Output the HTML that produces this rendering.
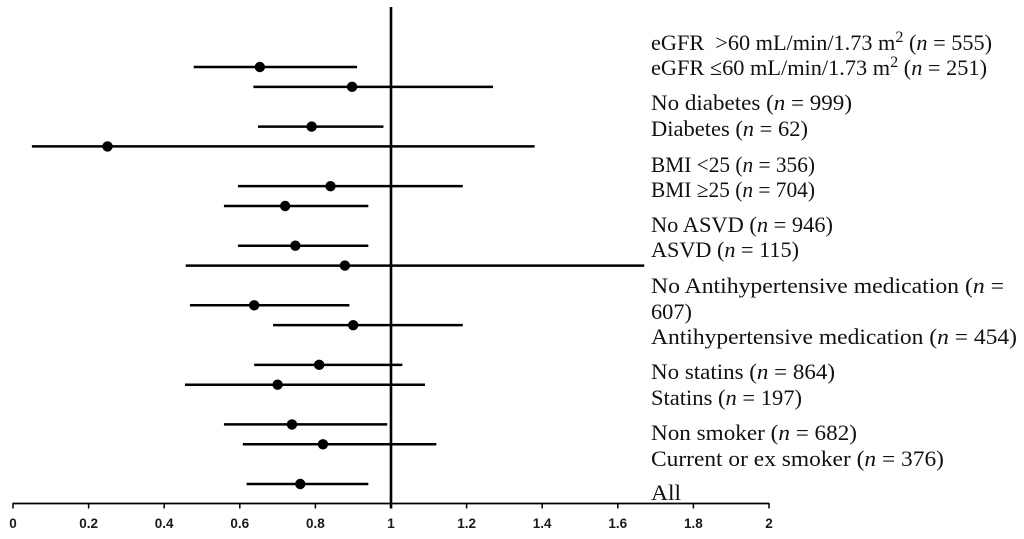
<!DOCTYPE html>
<html lang="en">
<head>
<meta charset="utf-8">
<title>Forest plot of subgroups</title>
<style>
html,body{margin:0;padding:0;background:#fff;width:1024px;height:539px;overflow:hidden}
svg{display:block}
.lbl{font-family:"Liberation Serif",serif;font-size:22px;fill:#111;white-space:pre}
.lbl .n{font-style:italic}
.tick-label{font-family:"Liberation Sans",sans-serif;font-weight:bold;font-size:13.5px;fill:#1a1a1a;text-anchor:middle}
</style>
</head>
<body>
<svg id="chart" width="1024" height="539" viewBox="0 0 1024 539" xmlns="http://www.w3.org/2000/svg">
  <g id="marks"></g>
  <g id="axis"></g>
  <g>
    <text class="lbl" x="651" y="50" textLength="341" lengthAdjust="spacingAndGlyphs">eGFR  &gt;60 mL/min/1.73 m<tspan font-size="16" dy="-8">2</tspan><tspan dy="8"> (</tspan><tspan class="n">n</tspan> = 555)</text>
    <text class="lbl" x="651" y="75" textLength="336" lengthAdjust="spacingAndGlyphs">eGFR ≤60 mL/min/1.73 m<tspan font-size="16" dy="-8">2</tspan><tspan dy="8"> (</tspan><tspan class="n">n</tspan> = 251)</text>
    <text class="lbl" x="651" y="110" textLength="201" lengthAdjust="spacingAndGlyphs">No diabetes (<tspan class="n">n</tspan> = 999)</text>
    <text class="lbl" x="651" y="136" textLength="157" lengthAdjust="spacingAndGlyphs">Diabetes (<tspan class="n">n</tspan> = 62)</text>
    <text class="lbl" x="651" y="172" textLength="164" lengthAdjust="spacingAndGlyphs">BMI &lt;25 (<tspan class="n">n</tspan> = 356)</text>
    <text class="lbl" x="651" y="197" textLength="164" lengthAdjust="spacingAndGlyphs">BMI ≥25 (<tspan class="n">n</tspan> = 704)</text>
    <text class="lbl" x="651" y="232" textLength="182" lengthAdjust="spacingAndGlyphs">No ASVD (<tspan class="n">n</tspan> = 946)</text>
    <text class="lbl" x="651" y="257" textLength="148" lengthAdjust="spacingAndGlyphs">ASVD (<tspan class="n">n</tspan> = 115)</text>
    <text class="lbl" x="651" y="293" textLength="353" lengthAdjust="spacingAndGlyphs">No Antihypertensive medication (<tspan class="n">n</tspan> =</text>
    <text class="lbl" x="651" y="319" textLength="41" lengthAdjust="spacingAndGlyphs">607)</text>
    <text class="lbl" x="651" y="344" textLength="366" lengthAdjust="spacingAndGlyphs">Antihypertensive medication (<tspan class="n">n</tspan> = 454)</text>
    <text class="lbl" x="651" y="379" textLength="184" lengthAdjust="spacingAndGlyphs">No statins (<tspan class="n">n</tspan> = 864)</text>
    <text class="lbl" x="651" y="405" textLength="151" lengthAdjust="spacingAndGlyphs">Statins (<tspan class="n">n</tspan> = 197)</text>
    <text class="lbl" x="651" y="440" textLength="206" lengthAdjust="spacingAndGlyphs">Non smoker (<tspan class="n">n</tspan> = 682)</text>
    <text class="lbl" x="651" y="466" textLength="293" lengthAdjust="spacingAndGlyphs">Current or ex smoker (<tspan class="n">n</tspan> = 376)</text>
    <text class="lbl" x="651" y="500" textLength="30" lengthAdjust="spacingAndGlyphs">All</text>
  </g>
</svg>
<script>
// Rows run top to bottom; null entries are the blank spacer rows between groups.
const categories = ["eGFR >60", "eGFR <=60", null, "No diabetes", "Diabetes", null, "BMI <25", "BMI >=25", null, "No ASVD", "ASVD", null, "No antihypertensive", "Antihypertensive", null, "No statins", "Statins", null, "Non smoker", "Current or ex smoker", null, "All"];
const estimates = [0.653, 0.897, null, 0.79, 0.25, null, 0.84, 0.72, null, 0.747, 0.878, null, 0.638, 0.90, null, 0.81, 0.70, null, 0.738, 0.82, null, 0.76];
const lowerBounds = [0.478, 0.636, null, 0.648, 0.05, null, 0.595, 0.558, null, 0.595, 0.457, null, 0.468, 0.688, null, 0.638, 0.455, null, 0.558, 0.608, null, 0.618];
const upperBounds = [0.91, 1.27, null, 0.98, 1.38, null, 1.19, 0.94, null, 0.94, 1.67, null, 0.89, 1.19, null, 1.03, 1.09, null, 0.99, 1.12, null, 0.94];
const tickValues = [0, 0.2, 0.4, 0.6, 0.8, 1, 1.2, 1.4, 1.6, 1.8, 2];
const tickLabels = ["0", "0.2", "0.4", "0.6", "0.8", "1", "1.2", "1.4", "1.6", "1.8", "2"];
const referenceValue = 1;

const SVG_NS = "http://www.w3.org/2000/svg";
const plot = { left: 13, right: 769, firstRow: 67, lastRow: 484, axisY: 503.5, top: 7 };
function xScale(v) { return plot.left + (v - tickValues[0]) / (tickValues[tickValues.length - 1] - tickValues[0]) * (plot.right - plot.left); }
function yScale(i) { return plot.firstRow + i * (plot.lastRow - plot.firstRow) / (categories.length - 1); }
function make(tag, parent, attrs) {
  const el = document.createElementNS(SVG_NS, tag);
  for (const k in attrs) el.setAttribute(k, attrs[k]);
  parent.appendChild(el);
  return el;
}
const marks = document.getElementById("marks");
const axis = document.getElementById("axis");

const refLine = make("line", marks, { x1: xScale(referenceValue), x2: xScale(referenceValue), y1: plot.top, y2: plot.axisY + 5, stroke: "#000", "stroke-width": 2.6 });



categories.forEach(function (cat, i) {
  if (cat === null) return;
  const y = yScale(i);
  const ci = make("line", marks, { x1: xScale(lowerBounds[i]), x2: xScale(upperBounds[i]), y1: y, y2: y, stroke: "#000", "stroke-width": 2.5 });
  
  
  const pt = make("circle", marks, { cx: xScale(estimates[i]), cy: y, r: 5.2, fill: "#000" });
  
  
});

const axisLine = make("line", axis, { x1: plot.left - 0.5, x2: plot.right + 0.5, y1: plot.axisY, y2: plot.axisY, stroke: "#000", "stroke-width": 1.8 });



tickValues.forEach(function (v, i) {
  const x = xScale(v);
  const tick = make("line", axis, { x1: x, x2: x, y1: plot.axisY, y2: plot.axisY + 5, stroke: "#000", "stroke-width": 1.5 });
  
  
  const label = make("text", axis, { x: x, y: 528, class: "tick-label" });
  label.textContent = tickLabels[i];
  
  
});
</script>
</body>
</html>
